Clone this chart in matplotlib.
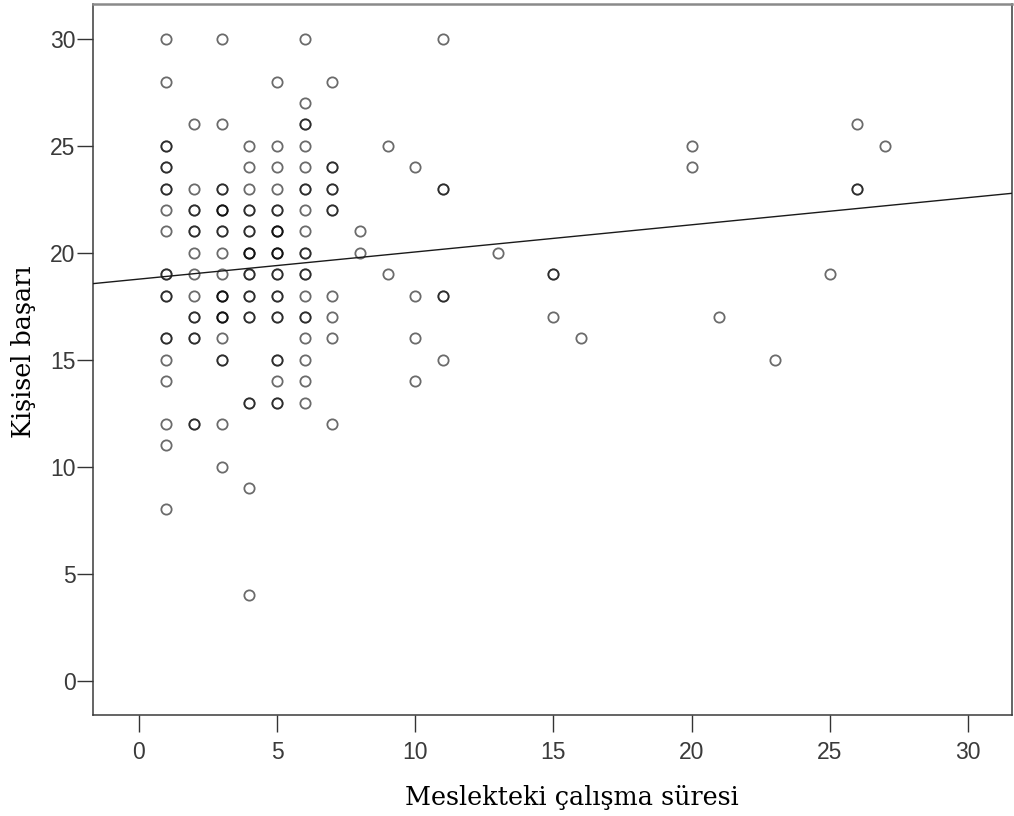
import matplotlib
matplotlib.use("Agg")
import matplotlib.pyplot as plt
import numpy as np

# years in profession (x), personal success score (y), number of overlapping cases
years = [1, 1, 1, 1, 1, 1, 1, 1, 1, 1, 1, 1, 1, 1, 1,
         2, 2, 2, 2, 2, 2, 2, 2, 2, 2,
         3, 3, 3, 3, 3, 3, 3, 3, 3, 3, 3, 3, 3,
         4, 4, 4, 4, 4, 4, 4, 4, 4, 4, 4, 4,
         5, 5, 5, 5, 5, 5, 5, 5, 5, 5, 5, 5, 5,
         6, 6, 6, 6, 6, 6, 6, 6, 6, 6, 6, 6, 6, 6, 6, 6,
         7, 7, 7, 7, 7, 7, 7, 7,
         8, 8, 9, 9, 10, 10, 10, 10, 11, 11, 11, 11,
         13, 15, 15, 16, 20, 20, 21, 23, 25, 26, 26, 27]
success = [30, 28, 25, 24, 23, 22, 21, 19, 18, 16, 15, 14, 12, 11, 8,
           26, 23, 22, 21, 20, 19, 18, 17, 16, 12,
           30, 26, 23, 22, 21, 20, 19, 18, 17, 16, 15, 12, 10,
           25, 24, 23, 22, 21, 20, 19, 18, 17, 13, 9, 4,
           28, 25, 24, 23, 22, 21, 20, 19, 18, 17, 15, 14, 13,
           30, 27, 26, 25, 24, 23, 22, 21, 20, 19, 18, 17, 16, 15, 14, 13,
           28, 24, 23, 22, 18, 17, 16, 12,
           21, 20, 25, 19, 24, 18, 16, 14, 30, 23, 18, 15,
           20, 19, 17, 16, 25, 24, 17, 15, 19, 26, 23, 25]
cases = [1, 1, 2, 2, 2, 1, 1, 2, 2, 2, 1, 1, 1, 1, 1,
         1, 1, 2, 2, 1, 1, 1, 2, 2, 2,
         1, 1, 2, 3, 2, 1, 1, 3, 3, 1, 2, 1, 1,
         1, 1, 1, 2, 2, 3, 2, 2, 2, 2, 1, 1,
         1, 1, 1, 1, 2, 3, 3, 2, 2, 2, 2, 1, 2,
         1, 1, 2, 1, 1, 2, 1, 1, 2, 2, 1, 2, 1, 1, 1, 1,
         1, 2, 2, 2, 1, 1, 1, 1,
         1, 1, 1, 1, 1, 1, 1, 1, 1, 2, 2, 1,
         1, 2, 1, 1, 1, 1, 1, 1, 1, 1, 2, 1]

# fit line
fit_intercept = 18.77
fit_slope = 0.127

xticks = [0, 5, 10, 15, 20, 25, 30]
yticks = [0, 5, 10, 15, 20, 25, 30]

tick_font = "Liberation Sans"
label_font = "DejaVu Serif"

fig = plt.figure(figsize=(10.14, 8.16), dpi=100)
ax = fig.add_axes([0.0922, 0.1232, 0.9063, 0.8713])

xs = np.repeat(years, cases)
ys = np.repeat(success, cases)
ax.plot(xs, ys, "o", ms=7.4, mfc="none", mec=(0, 0, 0, 0.58), mew=1.3, zorder=3)

xlim = (-1.64, 31.61)
ax.set_xlim(*xlim)
ax.set_ylim(-1.63, 31.61)
lx = np.array(xlim)
ax.plot(lx, fit_intercept + fit_slope * lx, color="#1a1a1a", lw=1.0, zorder=4)

ax.set_xticks(xticks)
ax.set_yticks(yticks)
ax.set_xticklabels([str(t) for t in xticks], family=tick_font, fontsize=16.5, color="#3a3a3a")
ax.set_yticklabels([str(t) for t in yticks], family=tick_font, fontsize=16.5, color="#3a3a3a")
ax.tick_params(axis="x", direction="out", length=12.5, width=1.0, pad=6, color="#333")
ax.tick_params(axis="y", direction="out", length=11.5, width=1.0, pad=1.5, color="#333")

for side in ("left", "bottom", "right"):
    ax.spines[side].set_color("#3a3a3a")
    ax.spines[side].set_linewidth(1.1)
ax.spines["top"].set_color("#8a8a8a")
ax.spines["top"].set_linewidth(1.8)

ax.set_xlabel("Meslekteki çalışma süresi", family=label_font, fontsize=18.4, labelpad=15)
ax.set_ylabel("Kişisel başarı", family=label_font, fontsize=18.4, labelpad=10)
# SPSS puts the titles a little off the axes' centre
ax.xaxis.label.set_x(0.521)
ax.yaxis.label.set_y(0.511)

fig.savefig("out.png", dpi=100, facecolor="white")
